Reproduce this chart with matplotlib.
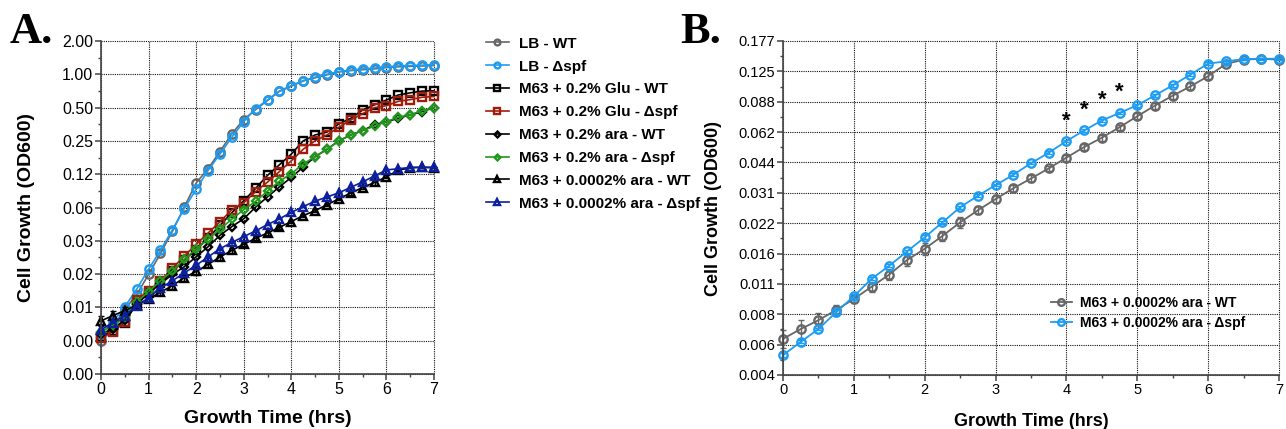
import numpy as np
import matplotlib
matplotlib.use("Agg")
import matplotlib.pyplot as plt
from matplotlib.ticker import FixedLocator, FormatStrFormatter, NullFormatter

plt.rcParams['font.family'] = ['Liberation Sans', 'DejaVu Sans']

# ---------------- data ----------------
time_hrs = [0, 0.25, 0.5, 0.75, 1, 1.25, 1.5, 1.75, 2, 2.25, 2.5, 2.75, 3, 3.25, 3.5,
            3.75, 4, 4.25, 4.5, 4.75, 5, 5.25, 5.5, 5.75, 6, 6.25, 6.5, 6.75, 7]

lb_wt = [0.0039, 0.0052, 0.0075, 0.0102, 0.0155, 0.024, 0.038, 0.063, 0.104, 0.14, 0.2, 0.29,
         0.39, 0.48, 0.58, 0.70, 0.78, 0.87, 0.93, 0.99, 1.05, 1.08, 1.10, 1.12, 1.15, 1.17,
         1.18, 1.19, 1.20]
lb_dspf = [0.0045, 0.0058, 0.0079, 0.0114, 0.0173, 0.0256, 0.0393, 0.061, 0.0915, 0.135, 0.19,
           0.27, 0.373, 0.49, 0.586, 0.707, 0.79, 0.877, 0.94, 1.0, 1.06, 1.09, 1.12, 1.14,
           1.17, 1.19, 1.20, 1.21, 1.22]
glu_wt = [0.0042, 0.0048, 0.0057, 0.0085, 0.0105, 0.013, 0.0165, 0.021, 0.026, 0.033, 0.043,
          0.056, 0.072, 0.093, 0.122, 0.152, 0.19, 0.25, 0.283, 0.30, 0.356, 0.40, 0.476, 0.53,
          0.586, 0.65, 0.68, 0.705, 0.71]
glu_dspf = [0.0041, 0.0047, 0.0058, 0.0091, 0.011, 0.0136, 0.0176, 0.0228, 0.029, 0.0367, 0.0464,
            0.0597, 0.069, 0.087, 0.106, 0.132, 0.165, 0.21, 0.25, 0.283, 0.332, 0.387, 0.44,
            0.50, 0.52, 0.57, 0.59, 0.62, 0.63]
ara_wt = [0.0045, 0.005, 0.006, 0.0083, 0.0105, 0.0128, 0.0155, 0.0182, 0.0224, 0.0276, 0.035,
          0.042, 0.0494, 0.063, 0.078, 0.096, 0.117, 0.145, 0.18, 0.21, 0.25, 0.283, 0.31, 0.35,
          0.373, 0.40, 0.43, 0.46, 0.50]
ara_dspf = [0.0047, 0.0054, 0.0064, 0.0088, 0.0108, 0.0136, 0.0167, 0.0213, 0.0263, 0.0323,
            0.0398, 0.049, 0.0597, 0.071, 0.088, 0.108, 0.126, 0.155, 0.18, 0.21, 0.25, 0.283,
            0.31, 0.34, 0.373, 0.41, 0.43, 0.47, 0.50]
low_wt = [0.0059, 0.0066, 0.0073, 0.0082, 0.0093, 0.0107, 0.0123, 0.0145, 0.0165, 0.0191, 0.0223,
          0.0256, 0.0291, 0.0329, 0.0368, 0.0413, 0.0467, 0.0527, 0.0586, 0.0661, 0.0749, 0.0846,
          0.0947, 0.1053, 0.1183, 0.136, 0.1428, 0.1444, 0.1428]
low_dspf = [0.0049, 0.0057, 0.0066, 0.008, 0.0096, 0.0117, 0.0136, 0.016, 0.0188, 0.0223, 0.0265,
            0.0302, 0.0341, 0.0384, 0.0438, 0.0494, 0.0564, 0.0637, 0.0713, 0.0778, 0.0849,
            0.0951, 0.1066, 0.1205, 0.1366, 0.1401, 0.1439, 0.1444, 0.1444]
low_wt_err = [0.0006, 0.0007, 0.0006, 0.0005, 0.0004, 0.0006, 0.0008, 0.001, 0.0011, 0.0011,
              0.0013, 0.0012, 0.0013, 0.0014, 0.0015, 0.0013, 0.0016, 0.0018, 0.0022, 0.0018,
              0.0025, 0.0028, 0.0035, 0.0045, 0.004, 0.002, 0.001, 0.001, 0.001]
low_dspf_err = [0.0001, 0.0001, 0.0001, 0.0002, 0.0002, 0.0002, 0.0002, 0.0003, 0.0004, 0.0004,
                0.0005, 0.0005, 0.0005, 0.0006, 0.0006, 0.0007, 0.0008, 0.0009, 0.001, 0.001,
                0.0012, 0.0014, 0.0015, 0.0017, 0.002, 0.002, 0.002, 0.002, 0.002]

labels_a = ['LB - WT', 'LB - \u0394spf', 'M63 + 0.2% Glu - WT', 'M63 + 0.2% Glu - \u0394spf',
            'M63 + 0.2% ara - WT', 'M63 + 0.2% ara - \u0394spf',
            'M63 + 0.0002% ara - WT', 'M63 + 0.0002% ara - \u0394spf']
labels_b = ['M63 + 0.0002% ara - WT', 'M63 + 0.0002% ara - \u0394spf']
star_times = [4, 4.25, 4.5, 4.75]

# ---------------- styles ----------------
GRAY = '#666666'
LBLUE = '#1c9cf2'
RED = '#a01d0c'
GREEN = '#1f9a1a'
NAVY = '#0c1f9e'

series_a = [
    (lb_wt, None, GRAY, 'o'),
    (lb_dspf, None, LBLUE, 'o'),
    (glu_wt, None, 'black', 's'),
    (glu_dspf, None, RED, 's'),
    (ara_wt, None, 'black', 'D'),
    (ara_dspf, None, GREEN, 'D'),
    (low_wt, low_wt_err, 'black', '^'),
    (low_dspf, low_dspf_err, NAVY, '^'),
]
marker_size = {'o': 6.0, 's': 5.5, 'D': 4.3, '^': 6.0}

fig = plt.figure(figsize=(12.86, 4.29), dpi=100)
axA = fig.add_axes([101 / 1286, 55 / 429, 333 / 1286, 333 / 429])
axB = fig.add_axes([783 / 1286, 54 / 429, 496 / 1286, 334 / 429])

def style_axes(ax, yticks, yminor, fmt, lblsize):
    ax.set_yscale('log', base=2)
    ax.set_xlim(0, 7)
    ax.set_ylim(yticks[0], yticks[-1])
    ax.yaxis.set_major_locator(FixedLocator(yticks))
    ax.yaxis.set_minor_locator(FixedLocator(yminor))
    ax.yaxis.set_major_formatter(FormatStrFormatter(fmt))
    ax.yaxis.set_minor_formatter(NullFormatter())
    ax.xaxis.set_major_locator(FixedLocator(np.arange(0, 8, 1)))
    ax.xaxis.set_minor_locator(FixedLocator(np.arange(0.5, 7, 1)))
    ax.xaxis.set_major_formatter(FormatStrFormatter('%d'))
    for s in ['top', 'right']:
        ax.spines[s].set_visible(False)
    for s in ['left', 'bottom']:
        ax.spines[s].set_color('#444444')
        ax.spines[s].set_linewidth(1.2)
    ax.tick_params(which='major', direction='out', length=4, width=1.1, color='#444444',
                   labelsize=lblsize, pad=1.5)
    ax.tick_params(which='minor', direction='out', length=2.5, width=1.0, color='#444444')
    ax.grid(True, which='major', color='#111111', linestyle=(0, (1, 1)), linewidth=0.8)
    for gl in ax.get_xgridlines() + ax.get_ygridlines():
        gl.set_clip_on(False)
    ax.set_axisbelow(True)

# ---------------- Panel A ----------------
a_ticks = [2.0 ** k for k in range(-9, 2)]
a_minor = [2.0 ** (k + 0.5) for k in range(-9, 1)]
handles = []
for (vals, err, col, mk), lab in zip(series_a, labels_a):
    if err is not None:
        axA.errorbar(time_hrs, vals, yerr=err, fmt='none', ecolor=col, elinewidth=1.0,
                     capsize=2.5, capthick=1.0, clip_on=False)
    ln, = axA.plot(time_hrs, vals, color=col, marker=mk, markersize=marker_size[mk],
                   markerfacecolor='none', markeredgewidth=1.7, linewidth=1.2, clip_on=False,
                   label=lab)
    handles.append(ln)
style_axes(axA, a_ticks, a_minor, '%.2f', 11.5)
axA.set_xlabel('Growth Time (hrs)', fontsize=14, fontweight='bold')
axA.set_ylabel('Cell Growth (OD600)', fontsize=14, fontweight='bold')
axA.xaxis.set_label_coords(0.5, -0.108)
axA.yaxis.set_label_coords(-0.198, 0.5)

legA = fig.legend(handles=handles, labels=labels_a, loc='upper left',
                  bbox_to_anchor=(478 / 1286, 1 - 29 / 429), frameon=False, borderpad=0,
                  prop={'weight': 'bold', 'size': 11}, handlelength=1.5, handletextpad=0.7,
                  labelspacing=0.58, markerscale=0.7)

# ---------------- Panel B ----------------
b_ticks = [2.0 ** (k / 2) for k in range(-16, -4)]
b_minor = [2.0 ** (k / 2 + 0.25) for k in range(-16, -5)]
axB.errorbar(time_hrs, low_wt, yerr=low_wt_err, fmt='none', ecolor=GRAY, elinewidth=1.0,
             capsize=2.5, capthick=1.0, clip_on=False)
hb1, = axB.plot(time_hrs, low_wt, color=GRAY, marker='o', markersize=6, markerfacecolor='none',
                markeredgewidth=1.7, linewidth=1.3, clip_on=False)
axB.errorbar(time_hrs, low_dspf, yerr=low_dspf_err, fmt='none', ecolor=LBLUE, elinewidth=1.0,
             capsize=2.5, capthick=1.0, clip_on=False)
hb2, = axB.plot(time_hrs, low_dspf, color=LBLUE, marker='o', markersize=6, markerfacecolor='none',
                markeredgewidth=1.7, linewidth=1.3, clip_on=False)
for t in star_times:
    i = time_hrs.index(t)
    axB.annotate('*', (t, low_dspf[i]), xytext=(0, 7), textcoords='offset points',
                 ha='center', va='bottom', fontsize=16, fontweight='bold')
style_axes(axB, b_ticks, b_minor, '%.3f', 10.5)
axB.set_xlabel('Growth Time (hrs)', fontsize=13, fontweight='bold')
axB.set_ylabel('Cell Growth (OD600)', fontsize=13, fontweight='bold')
axB.xaxis.set_label_coords(0.5, -0.114)
axB.yaxis.set_label_coords(-0.123, 0.5)
legB = axB.legend(handles=[hb1, hb2], labels=labels_b, loc='upper left',
                  bbox_to_anchor=(1044 / 1286, 1 - 289 / 429), bbox_transform=fig.transFigure,
                  frameon=False, borderpad=0,
                  prop={'family': ['Liberation Sans Narrow', 'Liberation Sans'], 'weight': 'bold', 'size': 10},
                  handlelength=1.5, handletextpad=0.6, labelspacing=0.45, markerscale=0.8)

# ---------------- panel letters ----------------
fig.text(10 / 1286, 1 - 43 / 429, 'A.', fontsize=32, fontweight='bold',
         family=['Liberation Serif', 'DejaVu Serif'], ha='left', va='baseline')
fig.text(680 / 1286, 1 - 43 / 429, 'B.', fontsize=32, fontweight='bold',
         family=['Liberation Serif', 'DejaVu Serif'], ha='left', va='baseline')

fig.savefig('out.png', dpi=100)
